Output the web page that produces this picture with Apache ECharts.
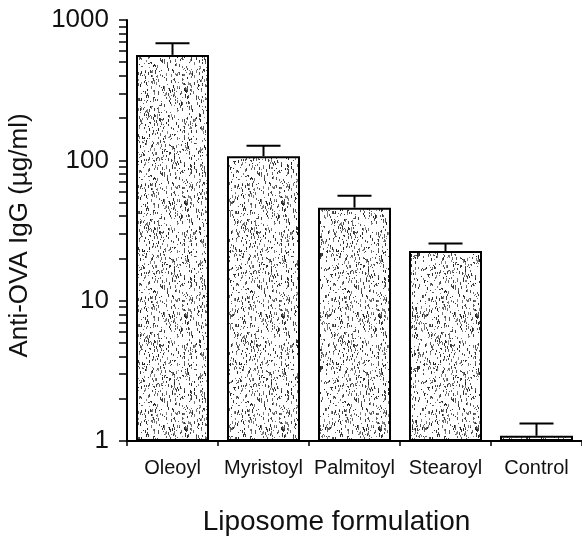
<!DOCTYPE html>
<html lang="en">
<head>
    <meta charset="UTF-8">
    <title>Anti-OVA IgG</title>
    <script src="https://cdn.jsdelivr.net/npm/echarts@6/dist/echarts.min.js"></script>
    <style type="text/css">
        html, body { margin: 0; padding: 0; background: #ffffff; }
        #chart { width: 582px; height: 536px; }
    </style>
</head>
<body>
<div id="chart"></div>
<script type="text/javascript">
    var categories = ['Oleoyl', 'Myristoyl', 'Palmitoyl', 'Stearoyl', 'Control'];
    var igg = [564, 107, 46, 22.6, 1.09];
    var iggUpper = [683, 127, 56, 25.5, 1.33];
    var majorTicks = [1, 10, 100, 1000];
    var minorTicks = [2, 3, 4, 5, 6, 7, 8, 9, 20, 30, 40, 50, 60, 70, 80, 90, 200, 300, 400, 500, 600, 700, 800, 900];

    // stippled fill like the scanned print
    function makeStipple() {
        var c = document.createElement('canvas');
        c.width = 97;
        c.height = 113;
        var ctx = c.getContext('2d');
        ctx.fillStyle = '#ffffff';
        ctx.fillRect(0, 0, c.width, c.height);
        var seed = 12345;
        function next() {
            seed = (seed * 1103515245 + 12345) % 2147483648;
            return seed / 2147483648;
        }
        for (var i = 0; i < 1000; i++) {
            var x = Math.floor(next() * c.width);
            var y = Math.floor(next() * c.height);
            var h = 1 + Math.floor(next() * 3);
            var g = 30 + Math.floor(next() * 110);
            ctx.fillStyle = 'rgb(' + g + ',' + g + ',' + g + ')';
            ctx.fillRect(x, y, 1, h);
        }
        return c;
    }

    var errData = [];
    for (var i = 0; i < categories.length; i++) {
        errData.push([i, igg[i], iggUpper[i]]);
    }

    var font = '"Liberation Sans", Arial, sans-serif';
    var myChart = echarts.init(document.getElementById('chart'));
    var option = {
        animation: false,
        backgroundColor: '#ffffff',
        grid: { left: 127, right: 0, top: 20, bottom: 95, outerBoundsMode: 'none' },
        xAxis: {
            type: 'category',
            data: categories,
            name: 'Liposome formulation',
            nameLocation: 'middle',
            nameGap: 67,
            nameTextStyle: { fontFamily: font, fontSize: 28, color: '#111', padding: [0, 36, 0, 0] },
            axisLine: { lineStyle: { color: '#000', width: 2 } },
            axisTick: { show: true, length: 5, lineStyle: { color: '#000', width: 1.5 } },
            axisLabel: { fontFamily: font, fontSize: 20, color: '#111', margin: 17, interval: 0 }
        },
        yAxis: {
            type: 'log',
            logBase: 10,
            min: 1,
            max: 1000,
            name: 'Anti-OVA IgG (µg/ml)',
            nameLocation: 'middle',
            nameGap: 94,
            nameTextStyle: { fontFamily: font, fontSize: 26, color: '#111', padding: [0, 10, 0, 0] },
            axisLine: { show: true, lineStyle: { color: '#000', width: 2 } },
            axisTick: { show: true, length: 8, customValues: majorTicks.concat(minorTicks), lineStyle: { color: '#000', width: 1.5 } },
            axisLabel: {
                fontFamily: font, fontSize: 26, color: '#111', margin: 18, customValues: majorTicks,
                formatter: function (v) { return String(v); }
            },
            splitLine: { show: false }
        },
        series: [{
            type: 'bar',
            data: igg,
            barWidth: 73,
            itemStyle: {
                color: { image: makeStipple(), repeat: 'repeat' },
                borderColor: '#000',
                borderWidth: 2
            },
            z: 2
        }, {
            type: 'custom',
            data: errData,
            encode: { x: 0, y: [1, 2] },
            z: 3,
            renderItem: function (params, api) {
                var base = api.coord([api.value(0), api.value(1)]);
                var top = api.coord([api.value(0), api.value(2)]);
                var half = 17;
                return {
                    type: 'group',
                    children: [{
                        type: 'line',
                        shape: { x1: base[0], y1: base[1], x2: top[0], y2: top[1] },
                        style: { stroke: '#000', lineWidth: 2 }
                    }, {
                        type: 'line',
                        shape: { x1: top[0] - half, y1: top[1], x2: top[0] + half, y2: top[1] },
                        style: { stroke: '#000', lineWidth: 2 }
                    }]
                };
            }
        }]
    };
    myChart.setOption(option);
</script>
</body>
</html>
